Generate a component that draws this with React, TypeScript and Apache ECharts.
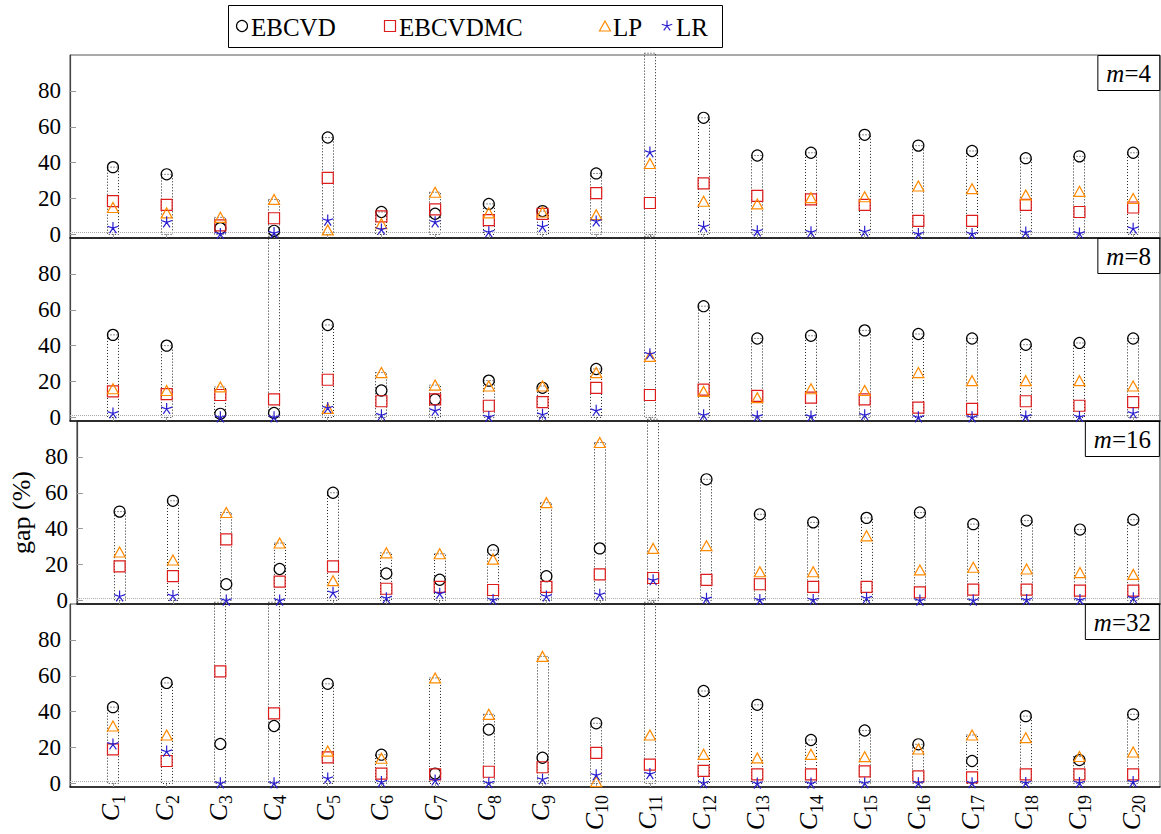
import React, { useEffect, useRef } from 'react';
import * as echarts from 'echarts';

// ---------- data ----------
const categories = ['1', '2', '3', '4', '5', '6', '7', '8', '9', '10', '11', '12', '13', '14', '15', '16', '17', '18', '19', '20'];
const xPositions = [1, 2, 3, 4, 5, 6, 7, 8, 9, 10, 11, 12, 13, 14, 15, 16, 17, 18, 19, 20];
const methods = ['EBCVD', 'EBCVDMC', 'LP', 'LR'];
const panelLabels = ['4', '8', '16', '32'];
const yTicks = [0, 20, 40, 60, 80];
const refLineValue = 1;

// values of 150 are off the top of the scale in the original
const m4_EBCVD = [37.5, 33.5, 3.5, 2, 54, 12.5, 11.5, 17, 13, 34, 150, 65, 44, 45.5, 55.5, 49.5, 46.5, 42.5, 43.5, 45.5];
const m4_EBCVDMC = [18.5, 16.5, 5, 9, 31.5, 10, 14, 8, 11.5, 23, 17.5, 28.5, 21.5, 19.5, 16.5, 7.5, 7.5, 16.5, 12.5, 15];
const m4_LP = [15, 12, 9.5, 19.5, 2.5, 6, 23.5, 12, 12.5, 11, 39.5, 18.5, 17, 20.5, 21, 27, 25.5, 22, 24, 20];
const m4_LR = [3.8, 7, 0.5, 1, 8, 3, 7, 1.5, 4.5, 7.5, 46, 4.5, 2, 1.5, 1.8, 0.5, 0.5, 1.3, 0.8, 3.5];

const m8_EBCVD = [46, 40, 2, 2.5, 51.5, 15, 10, 20.5, 16.5, 27, 150, 62, 44, 45.5, 48.5, 46.5, 44, 40.5, 41.5, 44];
const m8_EBCVDMC = [14.5, 13, 12.5, 10, 21, 9, 10, 6.5, 8.5, 16.5, 12.5, 15.5, 12, 11, 10, 5.5, 4.8, 9, 6.5, 8.5];
const m8_LP = [16, 15, 17, 150, 5, 25, 18, 17.5, 17.5, 25, 34, 14.5, 11, 16, 15, 25, 20.5, 20.5, 20.5, 17.5];
const m8_LR = [2.5, 5, 0.3, 0.3, 5.5, 1.5, 4, 0.5, 1.8, 4, 35.5, 1.5, 0.8, 0.8, 1.5, 0.3, 0.3, 0.8, 0.5, 2.5];

const m16_EBCVD = [49.5, 55.5, 9, 17.5, 60, 15, 11.5, 28, 13.5, 29, 150, 67.5, 48, 43.5, 46, 49, 42.5, 44.5, 39.5, 45];
const m16_EBCVDMC = [19, 13.5, 34, 10.5, 19, 6.5, 7.5, 5.8, 7.5, 14.5, 12.5, 11.5, 9, 7.5, 7.5, 4.5, 6, 6, 5.5, 5.5];
const m16_LP = [27, 22.5, 49, 32, 11, 26.5, 26, 23, 54.5, 88, 29, 30.5, 16, 16, 36, 17, 18.5, 17.5, 15.5, 14.5];
const m16_LR = [2.5, 2.8, 0.2, 0.2, 4.5, 1.5, 4, 0.5, 2.5, 3.5, 11.5, 1.2, 0.5, 0.5, 1.5, 0.2, 0.2, 0.5, 0.5, 1.5];

const m32_EBCVD = [42.5, 56, 22, 32, 55.5, 16, 5.5, 30, 14.3, 33.5, 150, 51.5, 43.8, 24.2, 29.5, 21.8, 12.5, 37.5, 13, 38.5];
const m32_EBCVDMC = [19, 12.5, 62.5, 39, 14.5, 5.5, 5, 6.5, 9, 17, 10.5, 7, 5, 5, 6.7, 3.9, 3.4, 5, 5, 5];
const m32_LP = [32, 27, 150, 150, 18, 14, 58.8, 38.5, 70.8, 1, 27, 16.2, 14.2, 16.2, 14.9, 19.2, 27, 25.5, 15, 17.5];
const m32_LR = [22, 18, 0.3, 0.3, 3, 1, 1.9, 0.4, 2.5, 4.8, 5.5, 0.4, 0.2, 0.2, 0.4, 0.4, 0.4, 0.5, 0.5, 1];

const panels = [
  [m4_EBCVD, m4_EBCVDMC, m4_LP, m4_LR],
  [m8_EBCVD, m8_EBCVDMC, m8_LP, m8_LR],
  [m16_EBCVD, m16_EBCVDMC, m16_LP, m16_LR],
  [m32_EBCVD, m32_EBCVDMC, m32_LP, m32_LR],
];

// ---------- styles ----------
const SERIF = 'Liberation Serif';
const gridTops = [55, 238, 421, 604];
const GRID_H = 183;
const GRID_LEFT = 70;
const GRID_RIGHT = 1;
const Y_MIN = -2;
const Y_MAX = 100;
const colors = ['#000000', '#dd1c1c', '#ff8a00', '#2a1fcf'];
const STAR_PATH = 'path://M0,-10L0,0M9.51,-3.09L0,0M5.88,8.09L0,0M-5.88,8.09L0,0M-9.51,-3.09L0,0';
const symbols = ['circle', 'rect', 'triangle', STAR_PATH];
const symbolSizes: any[] = [11, 11, [11, 10], 11];

echarts.graphic.registerShape(
  'legendStar',
  echarts.graphic.extendPath('M0,-5.5L0,0M5.23,-1.7L0,0M3.23,4.45L0,0M-3.23,4.45L0,0M-5.23,-1.7L0,0', {}) as any
);

function buildOption() {
  const grids = gridTops.map((t) => ({
    left: GRID_LEFT,
    right: GRID_RIGHT,
    top: t,
    height: GRID_H,
    show: true,
    borderColor: '#555',
    borderWidth: 1,
    backgroundColor: 'transparent',
  }));

  const xAxes = gridTops.map((_, p) => ({
    type: 'value',
    gridIndex: p,
    min: 0.2,
    max: 20.5,
    splitLine: { show: false },
    axisLine: { show: true, onZero: false, lineStyle: { color: '#111', width: 1.6 } },
    axisTick: { show: true, inside: true, length: 4, customValues: xPositions, lineStyle: { color: '#999' } },
    axisLabel: {
      show: p === 3,
      customValues: xPositions,
      rotate: 90,
      margin: 8,
      formatter: (v: number) => `{c|C}{s|${categories[xPositions.indexOf(v)]}}`,
      rich: {
        c: { fontFamily: SERIF, fontStyle: 'italic', fontSize: 26, color: '#000', lineHeight: 30, verticalAlign: 'top' },
        s: { fontFamily: SERIF, fontSize: 18, color: '#000', lineHeight: 15, verticalAlign: 'bottom' },
      },
    },
  }));

  const yAxes = gridTops.map((_, p) => ({
    type: 'value',
    gridIndex: p,
    min: Y_MIN,
    max: Y_MAX,
    splitLine: { show: false },
    axisLine: { show: true, lineStyle: { color: '#444', width: 1.2 } },
    axisTick: { show: true, inside: true, length: 6, customValues: yTicks, lineStyle: { color: '#999' } },
    axisLabel: {
      show: true,
      customValues: yTicks,
      margin: 9,
      fontFamily: SERIF,
      fontSize: 23,
      color: '#000',
    },
    name: p === 2 ? 'gap (%)' : '',
    nameLocation: 'middle',
    nameGap: 40,
    nameRotate: 90,
    nameTextStyle: { fontFamily: SERIF, fontSize: 26, color: '#000' },
  }));

  const series: any[] = [];
  panels.forEach((vals, p) => {
    const boxData = xPositions.map((x, i) => [x, Math.max(vals[0][i], vals[1][i], vals[2][i], vals[3][i])]);
    series.push({
      type: 'custom',
      xAxisIndex: p,
      yAxisIndex: p,
      z: 1,
      clip: false,
      data: boxData,
      renderItem: (_params: any, api: any) => {
        const x = api.value(0);
        const top = Math.min(api.value(1), Y_MAX + 1);
        const p0 = api.coord([x, 0]);
        const p1 = api.coord([x, top]);
        return {
          type: 'rect',
          shape: { x: Math.round(p0[0]) - 5.5, y: p1[1], width: 11, height: p0[1] - p1[1] },
          style: { fill: 'none', stroke: '#222', lineWidth: 1, lineDash: [1, 2] },
        };
      },
    });
    vals.forEach((arr, k) => {
      series.push({
        type: 'scatter',
        name: methods[k],
        xAxisIndex: p,
        yAxisIndex: p,
        z: 3 + k,
        clip: true,
        symbol: symbols[k],
        symbolSize: symbolSizes[k],
        itemStyle: { color: 'transparent', borderColor: colors[k], borderWidth: 1.2, opacity: 1 },
        data: xPositions.map((x, i) => [x, arr[i]]),
        markLine:
          k === 0
            ? {
                silent: true,
                symbol: 'none',
                label: { show: false },
                lineStyle: { type: 'dotted', color: '#aaa', width: 1 },
                data: [{ yAxis: refLineValue }],
              }
            : undefined,
      });
    });
  });

  const titles = panelLabels.map((m, p) => ({
    text: `{i|m}=${m}`,
    right: 1,
    top: gridTops[p],
    borderColor: '#000',
    borderWidth: 1,
    padding: [5, 9, 5, 9],
    textStyle: {
      fontFamily: SERIF,
      fontSize: 25,
      fontWeight: 'normal',
      color: '#000',
      lineHeight: 26,
      rich: { i: { fontFamily: SERIF, fontStyle: 'italic', fontSize: 25, lineHeight: 26, color: '#000' } },
    },
  }));

  // legend drawn as graphics
  const legendY = 26;
  const legendTextStyle = { fontFamily: SERIF, fontSize: 25, fill: '#000', verticalAlign: 'middle', textVerticalAlign: 'middle' };
  const legendMarkerX = [242, 390, 605, 667];
  const legendTextX = [251, 399, 613, 676];
  const graphic: any[] = [
    { type: 'rect', shape: { x: 228.5, y: 5.5, width: 494, height: 42 }, style: { fill: '#fff', stroke: '#000', lineWidth: 1 }, z: 10 },
    { type: 'circle', shape: { cx: legendMarkerX[0], cy: legendY, r: 5.5 }, style: { fill: 'none', stroke: colors[0], lineWidth: 1.2 }, z: 11 },
    { type: 'rect', shape: { x: legendMarkerX[1] - 5.5, y: legendY - 5.5, width: 11, height: 11 }, style: { fill: 'none', stroke: colors[1], lineWidth: 1.2 }, z: 11 },
    {
      type: 'polygon',
      shape: { points: [[legendMarkerX[2], legendY - 5], [legendMarkerX[2] + 5.5, legendY + 5], [legendMarkerX[2] - 5.5, legendY + 5]] },
      style: { fill: 'none', stroke: colors[2], lineWidth: 1.2 },
      z: 11,
    },
    { type: 'legendStar', x: legendMarkerX[3], y: legendY, style: { fill: 'none', stroke: colors[3], lineWidth: 1.2 }, z: 11 },
  ];
  methods.forEach((m, k) => {
    graphic.push({ type: 'text', x: legendTextX[k], y: legendY + 1, style: { text: m, ...legendTextStyle }, z: 11 });
  });

  return {
    animation: false,
    backgroundColor: '#fff',
    title: titles,
    grid: grids,
    xAxis: xAxes,
    yAxis: yAxes,
    series,
    graphic,
  };
}

export default function App() {
  const ref = useRef<HTMLDivElement>(null);
  useEffect(() => {
    if (!ref.current) return;
    const chart = echarts.init(ref.current, undefined, { renderer: 'svg' });
    chart.setOption(buildOption() as any);
    return () => chart.dispose();
  }, []);
  return <div ref={ref} style={{ position: 'absolute', left: 0, top: 0, width: 1161, height: 834 }} />;
}
